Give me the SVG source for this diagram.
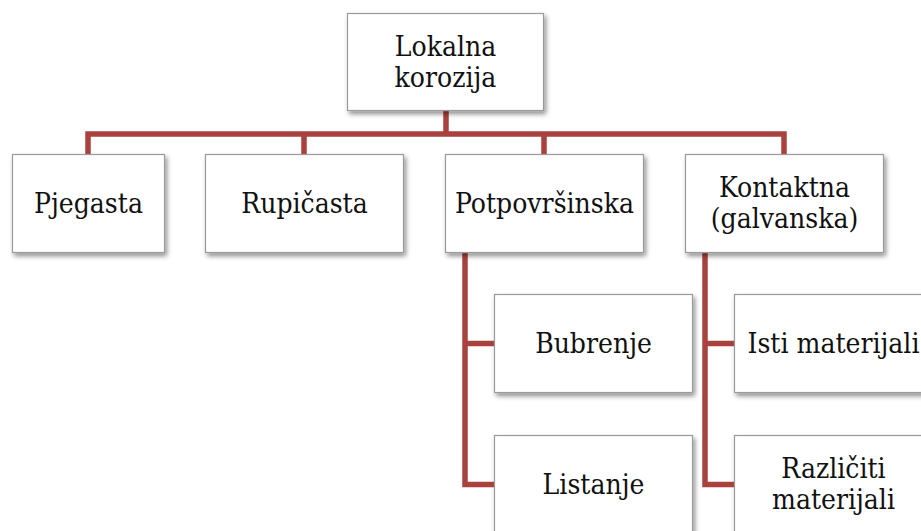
<svg xmlns="http://www.w3.org/2000/svg" width="921" height="531" viewBox="0 0 921 531">
<defs>
<filter id="sh" x="-10%" y="-10%" width="130%" height="130%">
<feGaussianBlur in="SourceAlpha" stdDeviation="2.5"/>
<feOffset dx="2" dy="3" result="b"/>
<feComponentTransfer><feFuncA type="linear" slope="0.45"/></feComponentTransfer>
<feMerge><feMergeNode/><feMergeNode in="SourceGraphic"/></feMerge>
</filter>
</defs>
<style>
.box{fill:#ffffff;stroke:#9a9a9a;stroke-width:1.2;filter:url(#sh)}
.t{font-family:"DejaVu Serif Condensed","DejaVu Serif",serif;font-stretch:condensed;font-size:28px;fill:#111111;text-anchor:middle}
.c{fill:none;stroke:#a9423f;stroke-width:5.5;stroke-linejoin:miter;stroke-linecap:butt}
</style>
<rect width="921" height="531" fill="#ffffff"/>
<g id="connectors">
<path class="c" d="M446 111 V134 M88 154 V134 H784 V154 M304 134 V154 M544 134 V154"/>
<path class="c" d="M465 253 V484.5 H494 M465 343.5 H494"/>
<path class="c" d="M705 253 V484.5 H734 M705 343.5 H734"/>
</g>
<g id="lokalna"><rect class="box" x="347.5" y="13.5" width="196" height="97"/><text class="t" x="445.5" y="56">Lokalna</text><text class="t" x="445.5" y="87">korozija</text></g>
<g id="pjegasta"><rect class="box" x="12.5" y="154.5" width="152" height="98"/><text class="t" x="88.5" y="212.5">Pjegasta</text></g>
<g id="rupicasta"><rect class="box" x="205.5" y="154.5" width="198" height="98"/><text class="t" x="304.5" y="212.5">Rupičasta</text></g>
<g id="potpovrsinska"><rect class="box" x="445.5" y="154.5" width="198" height="98"/><text class="t" x="544.5" y="212.5">Potpovršinska</text></g>
<g id="kontaktna"><rect class="box" x="685.5" y="154.5" width="198" height="98"/><text class="t" x="784.5" y="197">Kontaktna</text><text class="t" x="784.5" y="228">(galvanska)</text></g>
<g id="bubrenje"><rect class="box" x="494.5" y="294.5" width="198" height="98"/><text class="t" x="593.5" y="352.5">Bubrenje</text></g>
<g id="listanje"><rect class="box" x="494.5" y="435.5" width="198" height="98"/><text class="t" x="593.5" y="493.5">Listanje</text></g>
<g id="isti"><rect class="box" x="734.5" y="294.5" width="198" height="98"/><text class="t" x="833.5" y="352.5">Isti materijali</text></g>
<g id="razliciti"><rect class="box" x="734.5" y="435.5" width="198" height="98"/><text class="t" x="833.5" y="477.5">Različiti</text><text class="t" x="833.5" y="509">materijali</text></g>
</svg>
